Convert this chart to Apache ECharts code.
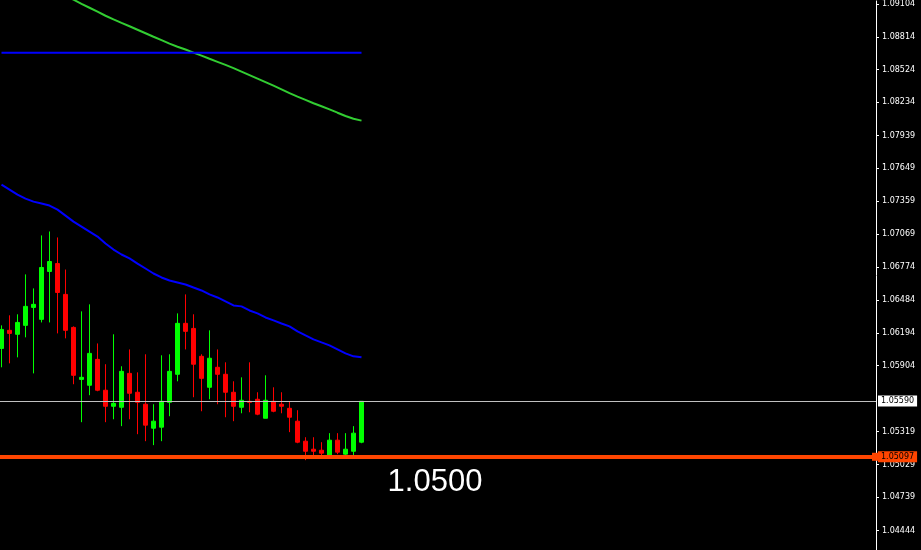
<!DOCTYPE html>
<html><head><meta charset="utf-8">
<script src="https://cdn.jsdelivr.net/npm/echarts@6/dist/echarts.min.js"></script>
<style>html,body{margin:0;padding:0;background:#000}#c{width:921px;height:550px}</style>
</head><body><div id="c"></div>
<script>
const opens = [1.06056,1.06216,1.06181,1.06260,1.06419,1.06313,1.06737,1.06807,1.06534,1.06242,1.05782,1.05730,1.05959,1.05686,1.05544,1.05535,1.05835,1.05668,1.05562,1.05350,1.05359,1.05579,1.05827,1.06278,1.06233,1.05986,1.05712,1.05889,1.05827,1.05668,1.05535,1.05588,1.05606,1.05438,1.05588,1.05562,1.05526,1.05412,1.05235,1.05164,1.05155,1.05111,1.05244,1.05120,1.05146,1.05226];
const closes = [1.06224,1.06189,1.06286,1.06428,1.06446,1.06772,1.06825,1.06551,1.06216,1.05818,1.05800,1.06012,1.05686,1.05544,1.05570,1.05853,1.05659,1.05579,1.05377,1.05412,1.05588,1.05853,1.06278,1.06207,1.05916,1.05791,1.05969,1.05827,1.05668,1.05544,1.05597,1.05579,1.05474,1.05597,1.05500,1.05544,1.05447,1.05226,1.05146,1.05146,1.05129,1.05244,1.05138,1.05164,1.05306,1.05588];
const lows = [1.05889,1.05924,1.05977,1.06154,1.05835,1.06286,1.06286,1.06189,1.06145,1.05739,1.05403,1.05642,1.05677,1.05403,1.05429,1.05368,1.05429,1.05297,1.05235,1.05200,1.05235,1.05456,1.05765,1.06047,1.05624,1.05500,1.05606,1.05562,1.05447,1.05412,1.05482,1.05491,1.05465,1.05438,1.05491,1.05482,1.05315,1.05217,1.05067,1.05111,1.05111,1.05102,1.05120,1.05111,1.05111,1.05217];
const highs = [1.06260,1.06349,1.06358,1.06711,1.06587,1.07056,1.07091,1.07038,1.06754,1.06251,1.06384,1.06446,1.06100,1.05916,1.06181,1.05898,1.06047,1.05844,1.06004,1.05562,1.05995,1.06004,1.06366,1.06534,1.06358,1.06004,1.06216,1.06047,1.05933,1.05765,1.05800,1.05933,1.05668,1.05818,1.05712,1.05668,1.05588,1.05509,1.05270,1.05270,1.05226,1.05306,1.05306,1.05306,1.05368,1.05588];
const maSlow = [1.09461,1.09425,1.09390,1.09355,1.09319,1.09284,1.09249,1.09213,1.09178,1.09142,1.09106,1.09071,1.09036,1.09000,1.08968,1.08937,1.08907,1.08876,1.08845,1.08814,1.08784,1.08753,1.08726,1.08701,1.08674,1.08647,1.08619,1.08592,1.08565,1.08537,1.08506,1.08475,1.08444,1.08413,1.08381,1.08349,1.08316,1.08284,1.08255,1.08226,1.08199,1.08172,1.08142,1.08113,1.08089,1.08072];
const maFast = [1.07505,1.07461,1.07417,1.07382,1.07355,1.07338,1.07320,1.07284,1.07231,1.07178,1.07134,1.07090,1.07046,1.06984,1.06931,1.06887,1.06852,1.06807,1.06763,1.06719,1.06684,1.06657,1.06640,1.06622,1.06595,1.06569,1.06534,1.06507,1.06472,1.06436,1.06428,1.06392,1.06366,1.06330,1.06304,1.06277,1.06251,1.06207,1.06171,1.06136,1.06109,1.06083,1.06048,1.06012,1.05986,1.05977];
const flatLevel = 1.08672;
const yTickValues = [1.09104,1.08814,1.08524,1.08234,1.07939,1.07649,1.07359,1.07069,1.06774,1.06484,1.06194,1.05904,1.05319,1.05029,1.04739,1.04444];
const currentPrice = 1.05590;
const orangeLevel = 1.05097;
const bigLabel = '1.0500';
const yMin = 1.04272, yMax = 1.09131;

const candleData = opens.map((o, i) => [i, o, closes[i], lows[i], highs[i]]);
const slowData = maSlow.map((v, i) => [i, v]);
const fastData = maFast.map((v, i) => [i, v]);
const flatData = opens.map((_, i) => [i, flatLevel]);

const chart = echarts.init(document.getElementById('c'), null, {renderer: 'canvas'});
chart.setOption({
  backgroundColor: '#000',
  animation: false,
  grid: {left: 0, top: 0, width: 876, height: 550, containLabel: false},
  xAxis: {type: 'value', min: -0.1875, max: 109.3125, show: false},
  yAxis: {
    type: 'value', position: 'right', min: yMin, max: yMax, scale: true,
    axisLine: {show: true, onZero: false, lineStyle: {color: '#fff', width: 1}},
    axisTick: {show: true, length: 3, lineStyle: {color: '#fff'}, customValues: yTickValues},
    axisLabel: {show: true, color: '#fff', fontFamily: '"DejaVu Sans"', fontSize: 8, margin: 6,
      customValues: yTickValues, formatter: v => v.toFixed(5)},
    splitLine: {show: false}
  },
  series: [
    {
      type: 'candlestick', data: candleData, barWidth: 4,
      itemStyle: {color: '#00ff00', color0: '#ff0000', borderColor: '#00ff00', borderColor0: '#ff0000', borderWidth: 1}
    },
    {type: 'line', data: slowData, showSymbol: false, lineStyle: {color: '#32cd32', width: 2}, z: 3,
      markLine: {
        silent: true, animation: false, precision: 5, symbol: ['none', 'rect'], symbolSize: [8, 8],
        data: [
          {yAxis: orangeLevel,
            itemStyle: {color: '#ff4500'},
            lineStyle: {color: '#ff4500', width: 4, type: 'solid'},
            label: {show: true, position: 'end', formatter: orangeLevel.toFixed(5), color: '#000',
              backgroundColor: '#ff4500', padding: [2, 3, 1, 3], fontFamily: '"DejaVu Sans"', fontSize: 8, distance: 2}}
        ]
      }
    },
    {type: 'line', data: fastData, showSymbol: false, lineStyle: {color: '#0000ff', width: 2}, z: 3},
    {
      type: 'line', data: flatData, showSymbol: false, lineStyle: {color: '#0000ff', width: 2}, z: 3,
      markLine: {
        silent: true, animation: false, precision: 5, symbol: ['none', 'none'],
        data: [
          {yAxis: currentPrice,
            lineStyle: {color: '#c0c0c0', width: 1, type: 'solid'},
            label: {show: true, position: 'end', formatter: currentPrice.toFixed(5), color: '#000',
              backgroundColor: '#fff', padding: [2, 3, 1, 3], fontFamily: '"DejaVu Sans"', fontSize: 8, distance: 2}}
        ]
      }
    }
  ],
  graphic: [{
    type: 'text', z: 100,
    style: {text: bigLabel, x: 435, y: 482, textAlign: 'center', textVerticalAlign: 'middle',
      fill: '#fff', font: '31px "Liberation Sans"'}
  }]
});
</script></body></html>
